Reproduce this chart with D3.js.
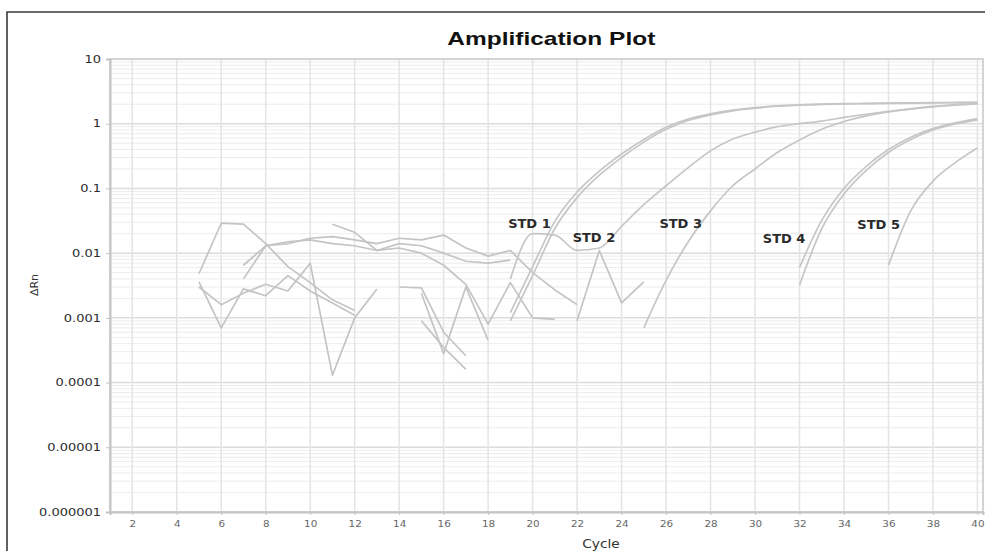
<!DOCTYPE html>
<html>
<head>
<meta charset="utf-8">
<script src="https://cdn.jsdelivr.net/npm/d3@7"></script>
<style>
  body { margin: 0; background: #fff; }
</style>
</head>
<body>
<svg id="chart" width="985" height="551"></svg>
<script>
// Axis ticks
var xTicks = [2, 4, 6, 8, 10, 12, 14, 16, 18, 20, 22, 24, 26, 28, 30, 32, 34, 36, 38, 40];
var yTicks = [0.000001, 0.00001, 0.0001, 0.001, 0.01, 0.1, 1, 10];
var yTickLabels = ["0.000001", "0.00001", "0.0001", "0.001", "0.01", "0.1", "1", "10"];

// Amplification wells: first plotted cycle + ΔRn for each following cycle
var std1a = { start: 19, dRn: [0.0012, 0.0062, 0.031, 0.088, 0.185, 0.34, 0.57, 0.88, 1.18, 1.42, 1.62, 1.77, 1.88, 1.96, 2.01, 2.04, 2.06, 2.08, 2.1, 2.12, 2.13, 2.14] };
var std1b = { start: 19, dRn: [0.0009, 0.0045, 0.024, 0.072, 0.16, 0.3, 0.52, 0.82, 1.12, 1.37, 1.58, 1.74, 1.86, 1.94, 1.99, 2.02, 2.04, 2.06, 2.08, 2.1, 2.11, 2.12] };
var std2  = { start: 19, dRn: [0.004, 0.02, 0.019, 0.011, 0.012, 0.026, 0.056, 0.11, 0.21, 0.38, 0.58, 0.74, 0.9, 1.0, 1.1, 1.25, 1.4, 1.55, 1.7, 1.85, 1.97, 2.08] };
var std3  = { start: 25, dRn: [0.0007, 0.0038, 0.015, 0.045, 0.11, 0.2, 0.36, 0.56, 0.82, 1.08, 1.32, 1.52, 1.68, 1.82, 1.93, 2.02] };
var std4a = { start: 32, dRn: [0.006, 0.032, 0.1, 0.22, 0.4, 0.62, 0.84, 1.03, 1.2] };
var std4b = { start: 32, dRn: [0.0032, 0.024, 0.082, 0.19, 0.36, 0.57, 0.8, 0.99, 1.15] };
var std5  = { start: 36, dRn: [0.0065, 0.045, 0.13, 0.25, 0.42] };

// Baseline noise fragments (only positive ΔRn shows on the log axis)
var noiseA = { start: 5,  dRn: [0.0048, 0.029, 0.028, 0.014, 0.0062, 0.0035, 0.0019, 0.0013] };
var noiseB = { start: 5,  dRn: [0.0036, 0.0007, 0.0028, 0.0022, 0.0045, 0.0026, 0.0017, 0.0011] };
var noiseC = { start: 5,  dRn: [0.003, 0.0016, 0.0024, 0.0033, 0.0026, 0.007, 0.00013, 0.001, 0.0028] };
var noiseD = { start: 7,  dRn: [0.0065, 0.013, 0.014, 0.017, 0.018, 0.016, 0.014, 0.017, 0.016, 0.019, 0.012, 0.009, 0.011, 0.005, 0.0027, 0.0016] };
var noiseE = { start: 7,  dRn: [0.004, 0.013, 0.015, 0.016, 0.014, 0.013, 0.011, 0.014, 0.013, 0.01, 0.0075, 0.007, 0.0078] };
var noiseF = { start: 11, dRn: [0.028, 0.021, 0.011, 0.012, 0.01, 0.0065, 0.0033, 0.0008, 0.0035, 0.001, 0.00095] };
var noiseG = { start: 14, dRn: [0.003, 0.0029, 0.0006, 0.00026] };
var noiseH = { start: 15, dRn: [0.0009, 0.00035, 0.00016] };
var noiseI = { start: 15, dRn: [0.0024, 0.00028, 0.003, 0.00045] };
var noiseJ = { start: 22, dRn: [0.0009, 0.011, 0.0017, 0.0036] };

var ampWells   = [std1a, std1b, std2, std3, std4a, std4b, std5];
var noiseWells = [noiseA, noiseB, noiseC, noiseD, noiseE, noiseF, noiseG, noiseH, noiseI, noiseJ];

// Standard labels, placed in data space
var stdNames      = ["STD 1", "STD 2", "STD 3", "STD 4", "STD 5"];
var stdLabelCycle = [18.9, 21.8, 25.7, 30.35, 34.6];
var stdLabelDRn   = [0.029, 0.0177, 0.029, 0.0167, 0.028];

// Dimensions
var margin = { top: 59, right: 2, bottom: 39, left: 110 };
var width  = 985 - margin.left - margin.right;
var height = 551 - margin.top - margin.bottom;
var stretch = 1.3; // the source picture is wide-stretched

var root = d3.select("#chart");

// Outer frame
root.append("path")
    .attr("d", "M7,551V12H985")
    .attr("fill", "none")
    .attr("stroke", "#3a3a3a")
    .attr("stroke-width", 1.6);

var svg = root.append("g")
    .attr("transform", "translate(" + margin.left + "," + margin.top + ")");

var x = d3.scaleLinear().domain([1, 40.25]).range([0, width]);
var y = d3.scaleLog().domain([1e-6, 10]).range([height, 0]);

// Grid
var grid = svg.append("g");
grid.selectAll(".minor")
    .data(y.ticks())
    .enter().append("line")
    .attr("x1", 0).attr("x2", width)
    .attr("y1", d => y(d)).attr("y2", d => y(d))
    .attr("stroke", d => yTicks.indexOf(d) >= 0 ? "#dcdcdc" : "#ececec")
    .attr("stroke-width", d => yTicks.indexOf(d) >= 0 ? 1.5 : 1);

grid.selectAll(".vert")
    .data(xTicks)
    .enter().append("line")
    .attr("x1", d => x(d)).attr("x2", d => x(d))
    .attr("y1", 0).attr("y2", height)
    .attr("stroke", "#e4e4e4")
    .attr("stroke-width", 1.5);

// Plot frame (light)
svg.append("rect")
    .attr("width", width).attr("height", height)
    .attr("fill", "none")
    .attr("stroke", "#d4d4d4")
    .attr("stroke-width", 2);

svg.append("defs").append("clipPath")
    .attr("id", "plot-clip")
    .append("rect")
    .attr("width", width)
    .attr("height", height);

function toPoints(w) {
    return w.dRn.map((v, i) => ({ c: w.start + i, v: v }));
}

var ampLine = d3.line()
    .x(d => x(d.c))
    .y(d => y(d.v))
    .curve(d3.curveMonotoneX);

var noiseLine = d3.line()
    .x(d => x(d.c))
    .y(d => y(d.v));

var curves = svg.append("g").attr("clip-path", "url(#plot-clip)");

curves.selectAll(".noise")
    .data(noiseWells)
    .enter().append("path")
    .attr("d", d => noiseLine(toPoints(d)))
    .attr("fill", "none")
    .attr("stroke", "#c4c4c4")
    .attr("stroke-width", 1.7)
    .attr("stroke-linejoin", "round");

curves.selectAll(".amp")
    .data(ampWells)
    .enter().append("path")
    .attr("d", d => ampLine(toPoints(d)))
    .attr("fill", "none")
    .attr("stroke", "#c6c6c6")
    .attr("stroke-width", 1.7)
    .attr("stroke-linejoin", "round");

// STD labels
svg.selectAll(".std-label")
    .data(stdNames)
    .enter().append("text")
    .attr("transform", (d, i) => "translate(" + x(stdLabelCycle[i]) + "," + y(stdLabelDRn[i]) + ")")
    .attr("dy", "0.36em")
    .style("font-family", "'DejaVu Sans', sans-serif")
    .style("font-weight", "bold")
    .style("font-size", "13px")
    .style("fill", "#2a2a2a")
    .text(d => d);

// Y axis
var yAxisG = svg.append("g")
    .call(d3.axisLeft(y)
        .tickValues(yTicks)
        .tickFormat((d, i) => yTickLabels[i])
        .tickSize(4)
        .tickPadding(4));

yAxisG.select(".domain").attr("stroke", "#c4c4c4").attr("stroke-width", 2);
yAxisG.selectAll(".tick line").attr("stroke", "#c4c4c4");
yAxisG.selectAll("text")
    .attr("x", -9 / stretch)
    .attr("transform", "scale(" + stretch + ",1)")
    .style("font-family", "'DejaVu Sans', sans-serif")
    .style("font-size", "10px")
    .style("fill", "#2e2e2e");

// X axis
var xAxisG = svg.append("g")
    .attr("transform", "translate(0," + height + ")")
    .call(d3.axisBottom(x)
        .tickValues(xTicks)
        .tickSize(3)
        .tickPadding(6));

xAxisG.select(".domain").attr("stroke", "#c4c4c4").attr("stroke-width", 2);
xAxisG.selectAll(".tick line").attr("stroke", "#c4c4c4");
xAxisG.selectAll("text")
    .attr("transform", "scale(" + stretch + ",1)")
    .style("font-family", "'DejaVu Sans', sans-serif")
    .style("font-size", "8px")
    .style("fill", "#666");

// Title
svg.append("text")
    .attr("x", x(20.84))
    .attr("y", -14)
    .attr("text-anchor", "middle")
    .attr("textLength", 208)
    .attr("lengthAdjust", "spacingAndGlyphs")
    .style("font-family", "'Liberation Sans', Arial, sans-serif")
    .style("font-weight", "bold")
    .style("font-size", "19px")
    .style("fill", "#111")
    .text("Amplification Plot");

// Axis titles
svg.append("text")
    .attr("transform", "translate(" + (601 - margin.left) + "," + (height + 36) + ") scale(1.15,1)")
    .attr("text-anchor", "middle")
    .style("font-family", "'DejaVu Sans', sans-serif")
    .style("font-size", "12px")
    .style("fill", "#333")
    .text("Cycle");

svg.append("text")
    .attr("transform", "translate(" + (38 - margin.left) + "," + (285 - margin.top) + ") rotate(-90)")
    .attr("text-anchor", "middle")
    .style("font-family", "'DejaVu Sans', sans-serif")
    .style("font-size", "11px")
    .style("fill", "#333")
    .text("ΔRn");
</script>
</body>
</html>
